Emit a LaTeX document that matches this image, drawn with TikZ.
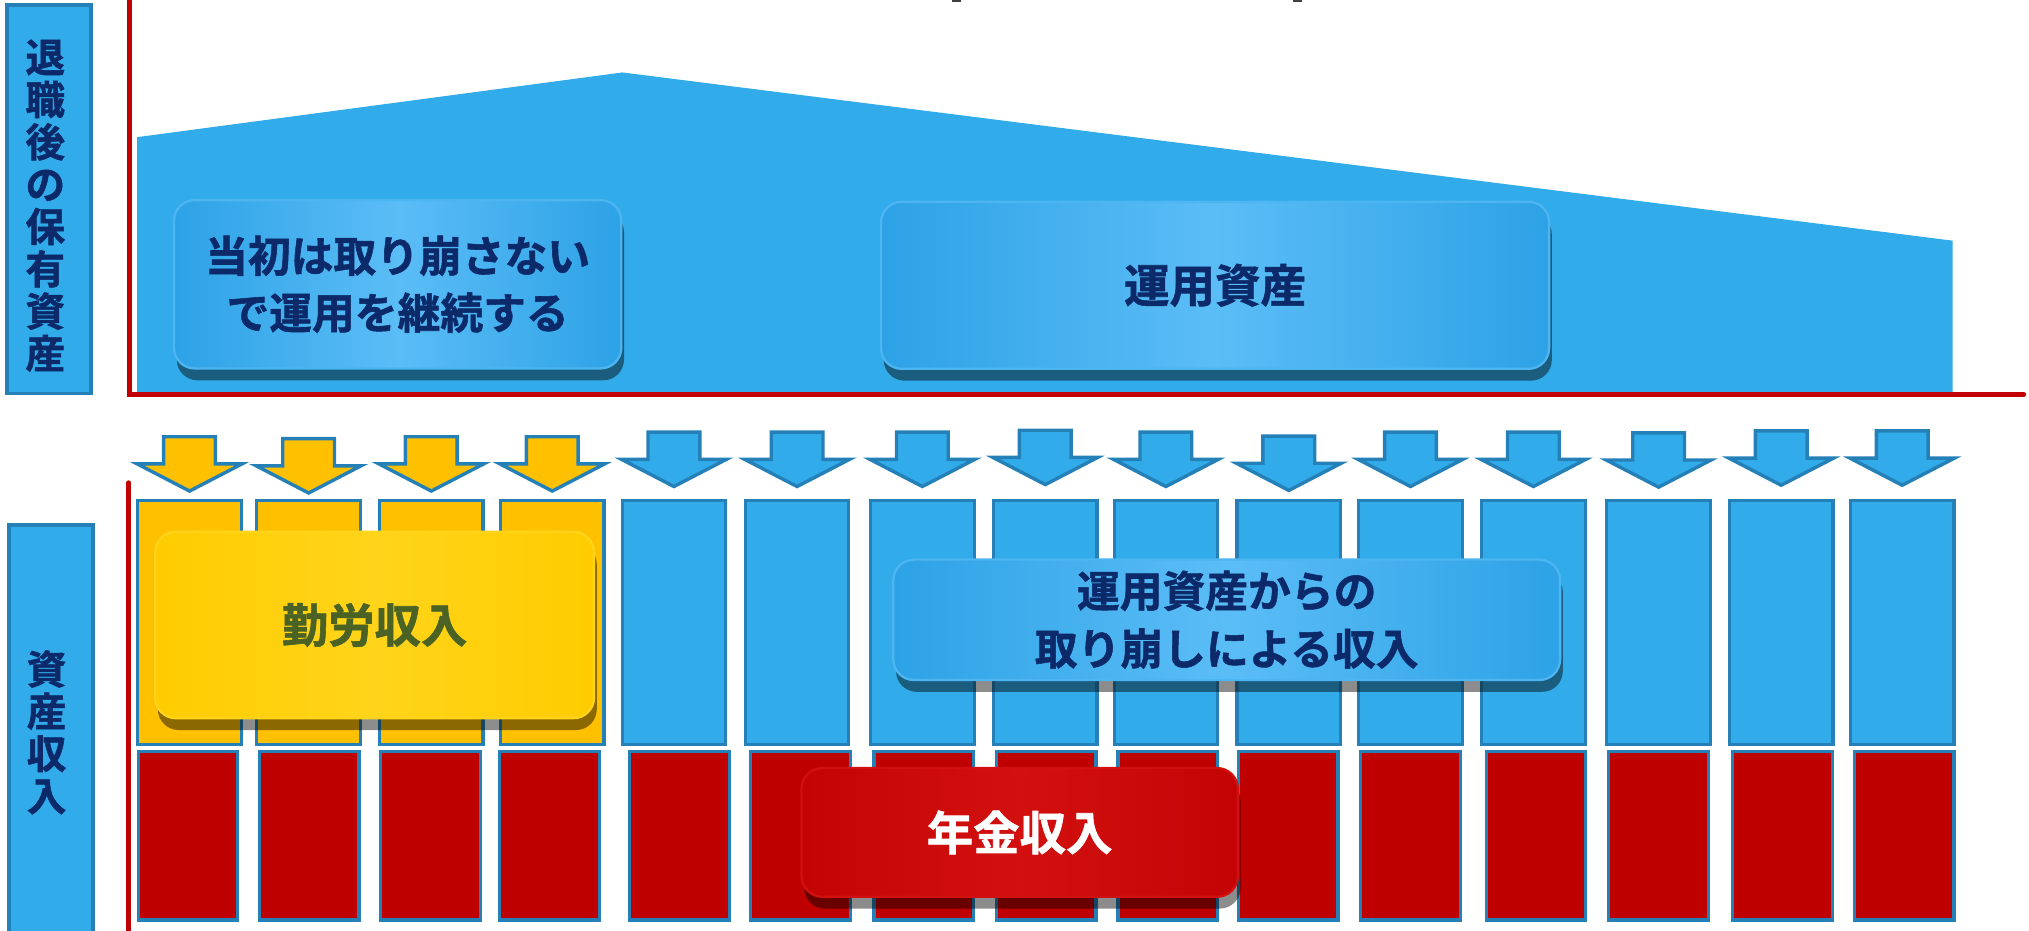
\documentclass[tikz,border=0pt]{standalone}
\usepackage{fontspec}
\newfontfamily\jp{Noto Sans CJK JP}[BoldFont={Noto Sans CJK JP Bold}, BoldFeatures={FakeBold=1.3}]
\usetikzlibrary{shadows}
\definecolor{skyb}{HTML}{31ABE9}
\definecolor{edgeb}{HTML}{2580B8}
\definecolor{navy}{HTML}{0C2A6A}
\definecolor{axisred}{HTML}{C00000}
\definecolor{barred}{HTML}{BF0000}
\definecolor{baryel}{HTML}{FFC000}
\definecolor{boxyel}{HTML}{FFCC00}
\definecolor{boxyellight}{HTML}{FFD41A}
\definecolor{olive}{HTML}{4A6224}
\definecolor{boxred}{HTML}{C40404}
\definecolor{boxredlight}{HTML}{D21010}
\definecolor{lightb}{HTML}{5BBDF6}
\definecolor{midb}{HTML}{2DA2E6}
\definecolor{fragment}{HTML}{404040}
\begin{document}
\begin{tikzpicture}[x=0.01cm,y=-0.01cm,
  labelbox/.style={draw=edgeb, line width=0.8pt, fill=skyb},
  vlabel/.style={font=\jp\bfseries\fontsize{8.7}{9.3}\selectfont, text=navy, align=center, inner sep=0pt},
  colbar/.style={draw=edgeb, line width=0.7pt, inner sep=0pt},
  downarrow/.style={draw=edgeb, line width=0.75pt, line join=miter},
  axisline/.style={draw=axisred, line width=1.0pt, line cap=round},
  rbox/.style={rounded corners=0.16cm, inner sep=0pt, align=center,
    drop shadow={shadow xshift=0.6pt, shadow yshift=-2.6pt, fill=black, opacity=0.45}},
  bluebox/.style={rbox, left color=midb, right color=midb, middle color=lightb, draw=lightb!70!midb, line width=0.5pt,
    text=navy, font=\jp\bfseries\fontsize{9.4}{12.5}\selectfont},
  yellowbox/.style={rbox, left color=boxyel, right color=boxyel, middle color=boxyellight, draw=boxyellight, line width=0.5pt,
    text=olive, font=\jp\bfseries\fontsize{10.2}{12.5}\selectfont},
  redbox/.style={rbox, left color=boxred, right color=boxred, middle color=boxredlight, draw=boxredlight, line width=0.5pt,
    text=white, font=\jp\bfseries\fontsize{10.2}{12.5}\selectfont}
]
\useasboundingbox (0,0) rectangle (1568,719);

% tiny cut-off fragments at the top edge
\fill[fragment] (736,0) rectangle (743,1.6);
\fill[fragment] (999,0) rectangle (1006,1.6);

% left labels
\node[labelbox, minimum width=0.65cm, minimum height=3.0cm, inner sep=0pt] (lab1) at (38,154) {};
\node[vlabel] (lab1t) at (35,159) {退\\職\\後\\の\\保\\有\\資\\産};
\node[labelbox, minimum width=0.65cm, minimum height=3.3cm, inner sep=0pt] (lab2) at (39.5,571) {};
\node[vlabel] (lab2t) at (36,566) {資\\産\\収\\入};

% upper area: assets polygon
\fill[skyb] (106,106) -- (481,56) -- (1509,186) -- (1509,304) -- (106,304) -- cycle;
\draw[axisline] (100,0) -- (100,305) -- (1564,305);

% lower axis
\draw[axisline] (99.5,373) -- (99.5,722);

% arrows, upper bars, red bars
\foreach \i/\cx/\rx/\ty in {1/146.5/145.3/337.5, 2/238.5/238.9/339, 3/333.3/332.8/337.5, 4/426.8/424.8/337.5,
  5/520.8/525/334, 6/616/618.5/334, 7/712.8/714/334, 8/807.8/808.5/332.5, 9/901/902.5/334, 10/996/995.5/337,
  11/1090/1090/334, 12/1185/1187/334, 13/1281.8/1281.8/334.5, 14/1376.5/1377.5/333, 15/1470/1471.5/333}{
  \ifnum\i<5 \def\fc{baryel}\else\def\fc{skyb}\fi
  \filldraw[downarrow, fill=\fc] ({\cx-20},\ty) -- ({\cx+20},\ty) -- ({\cx+20},{\ty+21}) -- ({\cx+40.5},{\ty+21})
     -- (\cx,{\ty+42}) -- ({\cx-40.5},{\ty+21}) -- ({\cx-20},{\ty+21}) -- cycle;
  \node[colbar, fill=\fc, minimum width=0.8cm, minimum height=1.88cm] (u\i) at (\cx,481) {};
  \node[colbar, fill=barred, minimum width=0.77cm, minimum height=1.30cm] (r\i) at (\rx,646) {};
}

% rounded text boxes
\node[bluebox, minimum width=3.455cm, minimum height=1.30cm] (b1) at (307.3,219.7) {当初は取り崩さない\\で運用を継続する};
\node[bluebox, font=\jp\bfseries\fontsize{10}{12.5}\selectfont, minimum width=5.16cm, minimum height=1.29cm] (b2) at (939,220.5) {運用資産};
\node[yellowbox, minimum width=3.39cm, minimum height=1.44cm] (b3) at (289.5,483) {勤労収入};
\node[bluebox, font=\jp\bfseries\fontsize{9.4}{12.7}\selectfont, minimum width=5.15cm, minimum height=0.93cm] (b4) at (948,479) {運用資産からの\\取り崩しによる収入};
\node[redbox, minimum width=3.37cm, minimum height=0.994cm] (b5) at (788,643.3) {年金収入};
\end{tikzpicture}
\end{document}
